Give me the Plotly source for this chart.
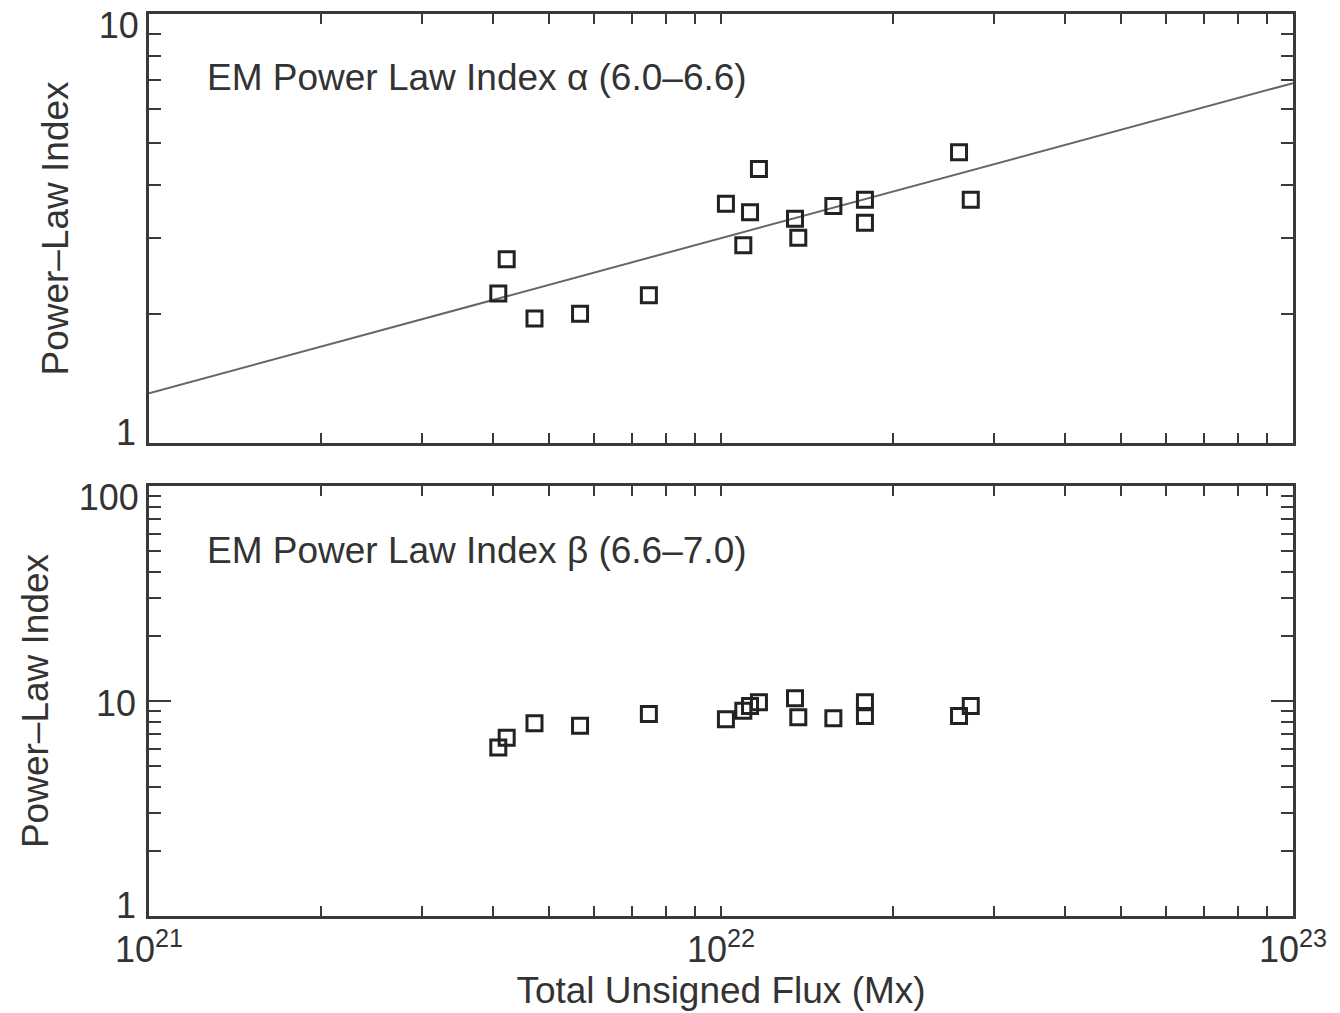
import plotly.graph_objects as go

# Data
flux = [4.08e21, 4.22e21, 4.72e21, 5.67e21, 7.48e21, 1.02e22, 1.094e22, 1.124e22,
        1.165e22, 1.347e22, 1.365e22, 1.572e22, 1.785e22, 1.785e22, 2.607e22, 2.733e22]
alpha = [2.23, 2.68, 1.95, 2.00, 2.21, 3.61, 2.89, 3.45,
         4.35, 3.33, 3.01, 3.57, 3.69, 3.26, 4.76, 3.69]
beta_flux = [4.08e21, 4.22e21, 4.72e21, 5.67e21, 7.48e21, 1.02e22, 1.094e22, 1.124e22,
             1.165e22, 1.347e22, 1.365e22, 1.572e22, 1.785e22, 1.785e22, 2.607e22, 2.733e22]
beta = [6.07, 6.75, 7.88, 7.68, 8.70, 8.22, 9.01, 9.48,
        9.86, 10.29, 8.40, 8.31, 9.86, 8.51, 8.51, 9.48]
fit_x = [1e21, 1e23]
fit_y = [1.306, 6.90]

x_tickvals = [1e21, 1e22, 1e23]
x_ticktext = ["10<sup>21</sup>", "10<sup>22</sup>", "10<sup>23</sup>"]
x_minor = [2e21, 3e21, 4e21, 5e21, 6e21, 7e21, 8e21, 9e21,
           2e22, 3e22, 4e22, 5e22, 6e22, 7e22, 8e22, 9e22]
y1_tickvals = [1, 10]
y1_minor = [2, 3, 4, 5, 6, 7, 8, 9]
y2_tickvals = [1, 10, 100]
y2_minor = [2, 3, 4, 5, 6, 7, 8, 9, 20, 30, 40, 50, 60, 70, 80, 90]

FONT = "Liberation Sans, Arial, Helvetica, sans-serif"
INK = "#333333"
AX = "#3a3a3a"
TICKFONT = dict(family=FONT, size=36, color=INK)
TITLEFONT = dict(family=FONT, size=37, color=INK)

fig = go.Figure()
fig.add_trace(go.Scatter(x=fit_x, y=fit_y, mode="lines",
                         line=dict(color="#666666", width=2),
                         xaxis="x", yaxis="y", showlegend=False, hoverinfo="skip"))
fig.add_trace(go.Scatter(x=flux, y=alpha, mode="markers",
                         marker=dict(symbol="square-open", size=15, color="#222222",
                                     line=dict(width=3, color="#222222")),
                         xaxis="x", yaxis="y", showlegend=False))
fig.add_trace(go.Scatter(x=beta_flux, y=beta, mode="markers",
                         marker=dict(symbol="square-open", size=15, color="#222222",
                                     line=dict(width=3, color="#222222")),
                         xaxis="x2", yaxis="y2", showlegend=False))
# empty traces so that the label-only overlay axes are drawn
for ya, xa in (("y3", "x"), ("y4", "x2"), ("y5", "x2")):
    fig.add_trace(go.Scatter(x=[], y=[], xaxis=xa, yaxis=ya, showlegend=False,
                             hoverinfo="skip"))

common_x = dict(type="log", range=[21, 23], showgrid=False, zeroline=False,
                showline=True, linecolor=AX, linewidth=3, mirror="allticks",
                ticks="inside", ticklen=10, tickwidth=2, tickcolor=AX,
                tickvals=x_tickvals, ticktext=x_ticktext, automargin=False,
                minor=dict(ticks="inside", ticklen=4, tickwidth=2, tickcolor=AX,
                           tickmode="array", tickvals=x_minor, showgrid=False),
                tickfont=TICKFONT)
common_y = dict(type="log", showgrid=False, zeroline=False, automargin=False,
                showline=True, linecolor=AX, linewidth=3, mirror="allticks",
                ticks="inside", ticklen=22, tickwidth=2, tickcolor=AX,
                tickfont=TICKFONT)


def label_axis(overlay, anchor, rng, vals, shift):
    # label-only overlay axis so that each tick label can sit where the original puts it
    return dict(type="log", overlaying=overlay, anchor=anchor, side="left", range=rng,
                showgrid=False, zeroline=False, showline=False,
                ticks="inside", ticklen=22, tickcolor="rgba(0,0,0,0)",
                automargin=False, tickmode="array", tickvals=vals,
                ticktext=[f"{v:g}" for v in vals], ticklabelshift=shift,
                ticklabelstandoff=12, tickfont=TICKFONT)


fig.update_layout(
    width=1340, height=1013,
    margin=dict(l=149, r=47, t=14, b=97),
    plot_bgcolor="white", paper_bgcolor="white",
    xaxis=dict(common_x, domain=[0, 1], anchor="y", showticklabels=False),
    yaxis=dict(common_y, domain=[0.5244, 1.0], anchor="x", range=[0, 1],
               tickmode="array", tickvals=y1_tickvals,
               ticktext=["", f"{y1_tickvals[1]:g}"], ticklabelshift=11,
               minor=dict(ticks="inside", ticklen=12, tickwidth=2, tickcolor=AX,
                          tickmode="array", tickvals=y1_minor, showgrid=False),
               title=dict(text="Power\u2013Law Index", standoff=19, font=TITLEFONT)),
    yaxis3=label_axis("y", "x", [0, 1], [y1_tickvals[0]], -11),
    xaxis2=dict(common_x, domain=[0, 1], anchor="y2",
                title=dict(text="Total Unsigned Flux (Mx)", standoff=6, font=TITLEFONT)),
    yaxis2=dict(common_y, domain=[0, 0.4767], anchor="x2", range=[0, 2],
                tickmode="array", tickvals=y2_tickvals,
                ticktext=["", "", f"{y2_tickvals[2]:g}"], ticklabelshift=11,
                minor=dict(ticks="inside", ticklen=12, tickwidth=2, tickcolor=AX,
                           tickmode="array", tickvals=y2_minor, showgrid=False),
                title=dict(text="Power\u2013Law Index", standoff=19, font=TITLEFONT)),
    yaxis4=label_axis("y2", "x2", [0, 2], [y2_tickvals[0]], -11),
    yaxis5=label_axis("y2", "x2", [0, 2], [y2_tickvals[1]], 2),
    annotations=[
        dict(text="EM Power Law Index \u03b1 (6.0\u20136.6)", xref="x domain", yref="y domain",
             x=0.049, y=0.853, xanchor="left", yanchor="middle", showarrow=False,
             font=TITLEFONT),
        dict(text="EM Power Law Index \u03b2 (6.6\u20137.0)", xref="x2 domain", yref="y2 domain",
             x=0.049, y=0.851, xanchor="left", yanchor="middle", showarrow=False,
             font=TITLEFONT),
    ],
)

fig.write_html("out.html")
